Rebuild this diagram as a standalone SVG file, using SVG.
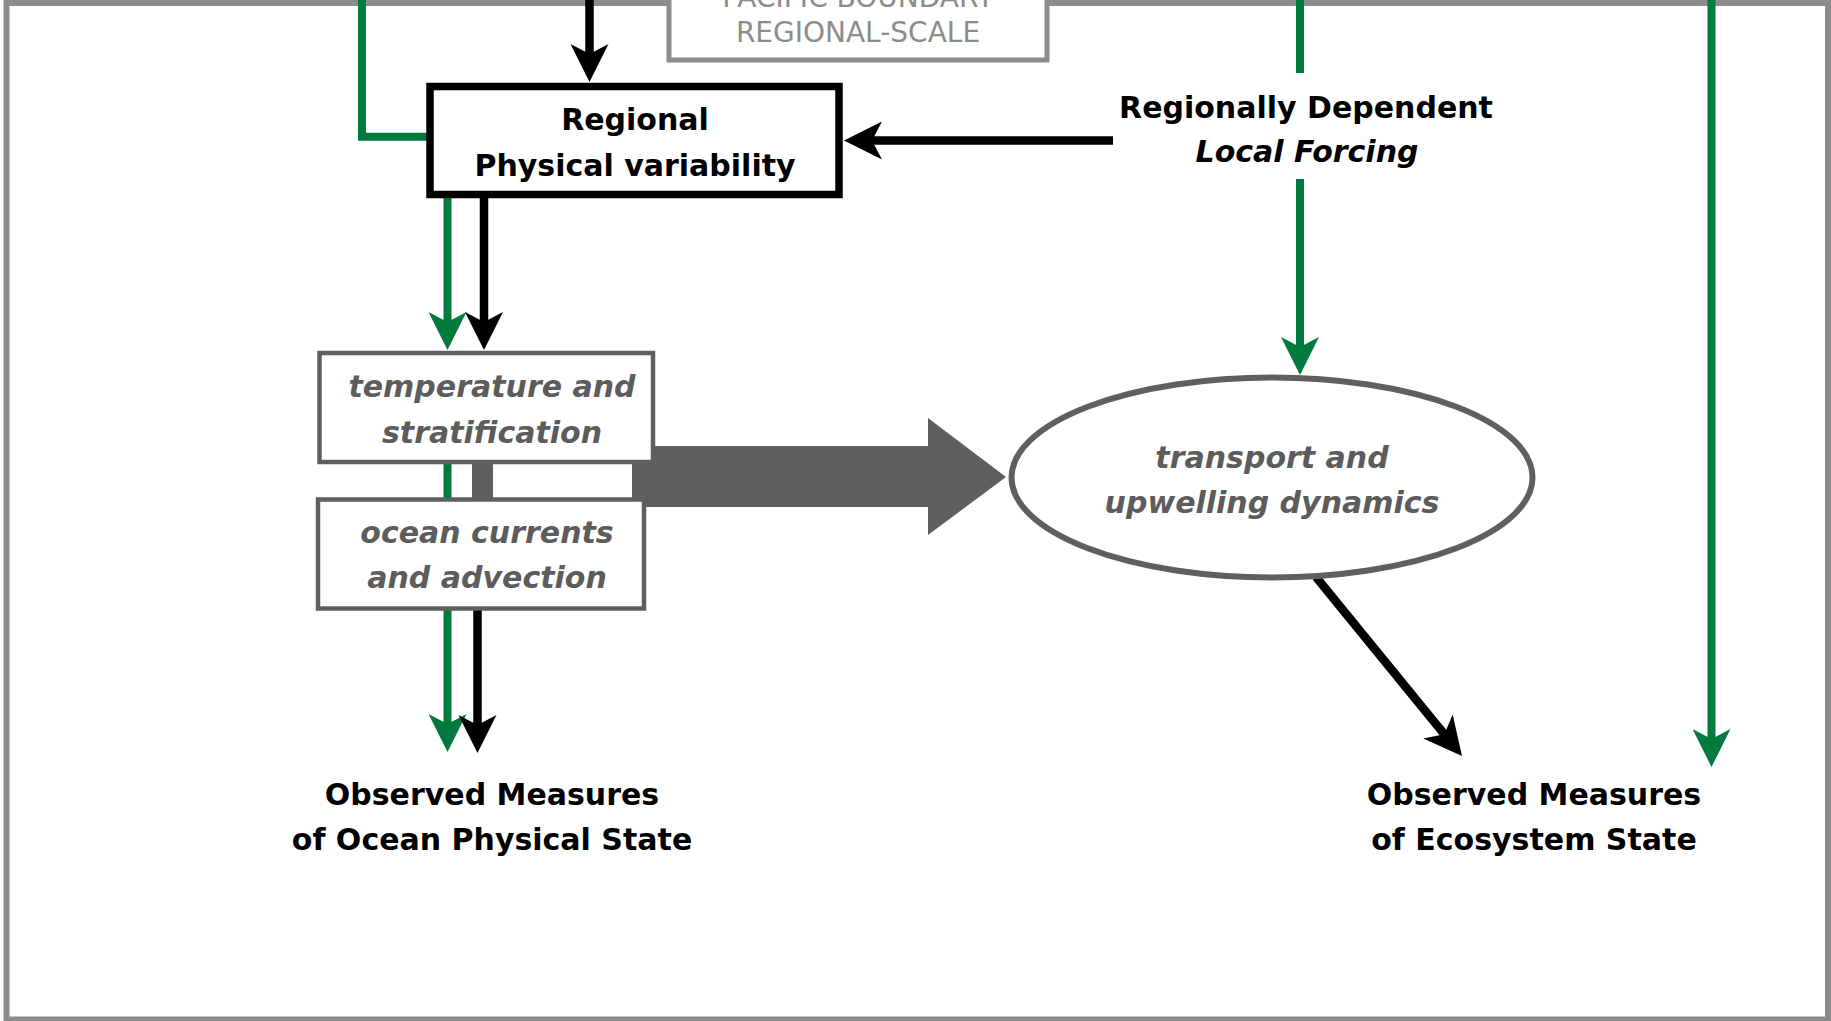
<svg xmlns="http://www.w3.org/2000/svg" width="1831" height="1021" viewBox="0 0 1831 1021">
<style>
text{font-family:"DejaVu Sans","Liberation Sans",sans-serif;text-anchor:middle}
.b{font-weight:bold;font-size:30px;fill:#000}
.i{font-weight:bold;font-style:italic;font-size:30px;fill:#5c5c5c}
.bi{font-weight:bold;font-style:italic;font-size:30px;fill:#000}
.top{font-size:28px;fill:#8c8c8c}
.g{stroke:#007a3d;stroke-width:8;fill:none}
.k{stroke:#000;stroke-width:8.5;fill:none}
.gm{marker-end:url(#ag)}
.km{marker-end:url(#ak)}
</style>
<defs>
<marker id="ag" viewBox="0 0 38 38" refX="10" refY="19" markerWidth="38" markerHeight="38" markerUnits="userSpaceOnUse" orient="auto"><path d="M0,0 L38,19 L0,38 L10,19 Z" fill="#007a3d"/></marker>
<marker id="ak" viewBox="0 0 38 38" refX="10" refY="19" markerWidth="38" markerHeight="38" markerUnits="userSpaceOnUse" orient="auto"><path d="M0,0 L38,19 L0,38 L10,19 Z" fill="#000"/></marker>
</defs>
<rect width="1831" height="1021" fill="#fff"/>
<rect id="frame" x="6.5" y="3" width="1821.5" height="1016.5" fill="none" stroke="#8c8c8c" stroke-width="6"/>

<g id="pacific-boundary">
<rect x="669" y="-40" width="378" height="100" fill="#fff" stroke="#8c8c8c" stroke-width="5"/>
<text class="top" x="858" y="7">PACIFIC BOUNDARY</text>
<text class="top" x="858" y="41.5">REGIONAL-SCALE</text>
</g>

<g id="connectors">
<path class="g" d="M362,0 V136.7 H430"/>
<path class="k km" d="M589.5,0 V54"/>
<path class="k km" d="M1113,140.5 H872"/>
<path class="g gm" d="M447.5,197 V322"/>
<path class="k km" d="M484,197 V322"/>
<path class="g" d="M447.5,462 V500"/>
<rect x="472" y="462" width="21" height="38" fill="#5f5f5f"/>
<path d="M632,446 H928 V418 L1006,477 L928,535 V507 H632 Z" fill="#5f5f5f"/>
<path class="g gm" d="M447.5,610 V724"/>
<path class="k km" d="M477.5,610 V725"/>
<path class="g" d="M1300,0 V73"/>
<path class="g gm" d="M1300,179 V347"/>
<path class="g gm" d="M1711.5,0 V739"/>
<path class="k km" d="M1316,577 L1444.3,734.3"/>
</g>

<g id="regional-physical">
<rect x="430" y="86.5" width="409" height="108" fill="#fff" stroke="#000" stroke-width="7.5"/>
<text class="b" x="635" y="130">Regional</text>
<text class="b" x="635" y="175.5">Physical variability</text>
</g>

<g id="local-forcing">
<text class="b" x="1306" y="117.5">Regionally Dependent</text>
<text class="bi" x="1307" y="162">Local Forcing</text>
</g>

<g id="temperature">
<rect x="319.5" y="353" width="333.5" height="109" fill="#fff" stroke="#5f5f5f" stroke-width="4.5"/>
<text class="i" x="492" y="397">temperature and</text>
<text class="i" x="492" y="443">stratification</text>
</g>

<g id="currents">
<rect x="318" y="499.5" width="326" height="109" fill="#fff" stroke="#5f5f5f" stroke-width="4.5"/>
<text class="i" x="487" y="543">ocean currents</text>
<text class="i" x="487" y="588">and advection</text>
</g>

<g id="transport">
<ellipse cx="1272" cy="477.5" rx="260.5" ry="100" fill="#fff" stroke="#5f5f5f" stroke-width="6"/>
<text class="i" x="1272" y="468">transport and</text>
<text class="i" x="1272" y="513">upwelling dynamics</text>
</g>

<g id="ocean-state">
<text class="b" x="492" y="805">Observed Measures</text>
<text class="b" x="492" y="850">of Ocean Physical State</text>
</g>

<g id="ecosystem-state">
<text class="b" x="1534" y="805">Observed Measures</text>
<text class="b" x="1534" y="850">of Ecosystem State</text>
</g>
</svg>
